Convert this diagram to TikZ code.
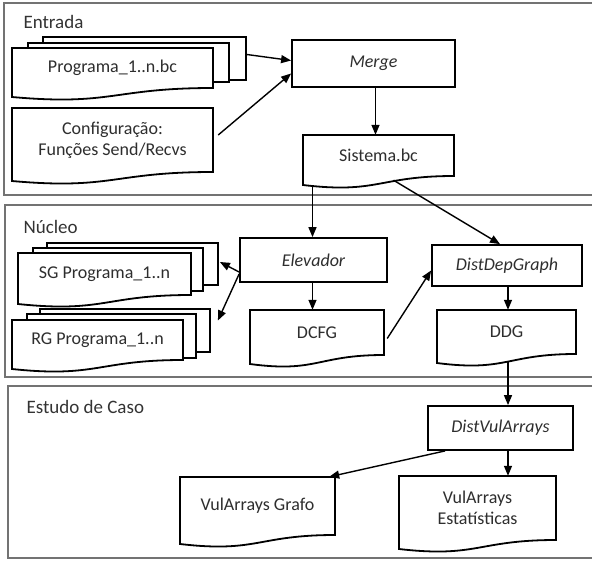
\documentclass[tikz,border=0pt]{standalone}
\usepackage{fontspec}
\setmainfont{Carlito}
\usetikzlibrary{arrows.meta,calc}
\newcommand\docu[6]{%
  \filldraw[docline] (#2,#3) -- (#4,#3) -- (#4,#5) .. controls ({(#2+#4)/2},#5) and ({(#2+#4)/2},#5+18) .. (#2,#5+9) -- cycle;
  \node[txt, minimum width={#4-#2}, minimum height={#5-#3}, inner sep=0] (#1) at ({(#2+#4)/2},{(#3+#5)/2}) {#6};
}
\newcommand\rectnode[7]{%
  \node[#2, minimum width={#5-#3}, minimum height={#6-#4}, inner sep=0] (#1) at ({(#3+#5)/2},{(#4+#6)/2}) {#7};
}
\begin{document}
\begin{tikzpicture}[x=1pt,y=-1pt,
  panel/.style={draw=black!55, line width=2pt},
  plabel/.style={anchor=base west, text=black!80, font=\fontsize{19}{22}\selectfont},
  txt/.style={font=\fontsize{18}{21}\selectfont, text=black!82, align=center},
  docline/.style={draw=black, fill=white, line width=1.8pt},
  proc/.style={draw, line width=1.8pt, fill=white, txt, font=\fontsize{18}{21}\selectfont\itshape},
  back/.style={draw, line width=1.8pt, fill=white},
  arr/.style={-{Triangle[length=10pt,width=8pt]}, line width=1.4pt},
]
\useasboundingbox (0,0) rectangle (592,560);
\begin{scope}
\clip (0,0) rectangle (592,560);
% panels
\draw[panel] (4,3) rectangle (600,195);
\draw[panel] (5,205) rectangle (600,377);
\draw[panel] (8,386) rectangle (600,558);
\end{scope}
\node[plabel] (lentrada) at (20,28) {Entrada};
\node[plabel] (lnucleo) at (20,233) {Núcleo};
\node[plabel] (lestudo) at (23,413) {Estudo de Caso};

% Entrada
\rectnode{prog3}{back}{43}{37}{246}{80}{}
\rectnode{prog2}{back}{28}{43}{229}{82}{}
\docu{prog}{12}{48}{213}{88}{Programa\_1..n.bc}
\docu{config}{12}{108}{213}{172}{Configuração:\\Funções Send/Recvs}
\rectnode{merge}{proc}{292}{40}{455}{87}{Merge}
\docu{sistema}{303}{135}{454}{176}{Sistema.bc}

% Núcleo
\rectnode{sg3}{back}{47}{243}{218}{285}{}
\rectnode{sg2}{back}{33}{248}{203}{291}{}
\docu{sg}{18}{253}{191}{295}{SG Programa\_1..n}
\rectnode{rg3}{back}{40}{309}{210}{352}{}
\rectnode{rg2}{back}{27}{314}{196}{358}{}
\docu{rg}{12}{320}{183}{360}{RG Programa\_1..n}
\rectnode{elev}{proc}{240}{238}{387}{282}{Elevador}
\docu{dcfg}{250}{310}{384}{355}{DCFG}
\rectnode{ddgp}{proc}{432}{245}{582}{286}{DistDepGraph}
\docu{ddg}{437}{310}{576}{354}{DDG}

% Estudo de Caso
\rectnode{dva}{proc}{428}{406}{573}{450}{DistVulArrays}
\docu{grafo}{180}{477}{335}{535}{VulArrays Grafo}
\docu{est}{399}{476}{556}{540}{VulArrays\\Estatísticas}

% connectors
\draw[arr] ($(prog3.east)+(0,-4)$) -- ($(merge.west)+(0,-3)$);
\draw[arr] ($(config.east)+(5,-5)$) -- ($(merge.west)+(0,10)$);
\draw[arr] ($(merge.south)+(2,0)$) -- ($(merge.south |- sistema.north)+(2,0)$);
\draw[arr] ($(elev.north |- sistema.south)+(-1,9)$) -- ($(elev.north)+(-1,0)$);
\draw[arr] ($(sistema.south)+(15,4)$) -- ($(ddgp.north)+(-7,0)$);
\draw[arr] ($(elev.west)+(0,12)$) -- ($(sg3.east)+(1,-2)$);
\draw[arr] ($(elev.west)+(0,14)$) -- ($(rg3.east)+(7,-10)$);
\draw[arr] ($(elev.south)+(-1,0)$) -- ($(elev.south |- dcfg.north)+(-1,0)$);
\draw[arr] ($(dcfg.east)+(3,6)$) -- ($(ddgp.west)+(0,5)$);
\draw[arr] ($(ddgp.south)+(1,0)$) -- ($(ddgp.south |- ddg.north)+(1,0)$);
\draw[arr] ($(ddg.south)+(1.5,8)$) -- ($(dva.north)+(7.5,0)$);
\draw[arr] ($(dva.south)+(7.5,0)$) -- ($(dva.south |- est.north)+(7.5,0)$);
\draw[arr] ($(dva.south west)+(18,0)$) -- ($(grafo.north east)+(-6,0)$);
\end{tikzpicture}
\end{document}
